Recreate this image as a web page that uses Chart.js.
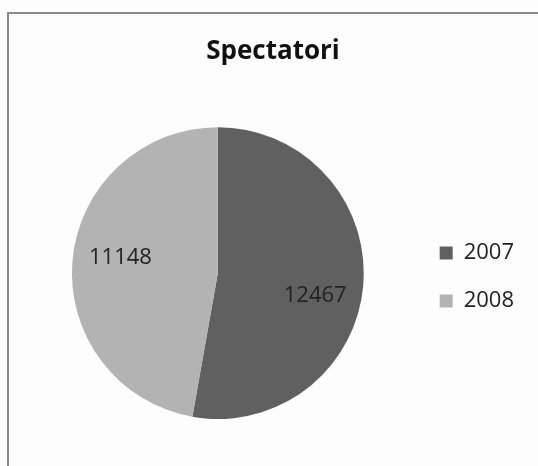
<!DOCTYPE html>
<html>
<head>
<meta charset="utf-8">
<script src="https://cdn.jsdelivr.net/npm/chart.js@4.4.1/dist/chart.umd.min.js"></script>
<style>
    html, body { margin: 0; padding: 0; background: #fdfdfd; overflow: hidden; }
    #wrap { position: relative; width: 538px; height: 466px; overflow: hidden; }
    #frame {
        position: absolute; left: 7px; top: 12px; width: 700px; height: 600px;
        border-left: 2px solid #8c8c8c; border-top: 2px solid #8c8c8c;
    }
    #spectatori-chart { position: absolute; left: 0; top: 0; }
</style>
</head>
<body>
<div id="wrap">
    <div id="frame"></div>
    <canvas id="spectatori-chart" width="538" height="466"></canvas>
</div>
<script>
// Spectatori - 2007 vs 2008

const years = ['2007', '2008'];
const spectators = [12467, 11148];
const sliceColors = ['#606060', '#b3b3b3'];

// Etichete de date in interiorul feliilor
const sliceLabels = {
    id: 'sliceLabels',
    afterDatasetsDraw(chart) {
        const { ctx } = chart;
        const meta = chart.getDatasetMeta(0);
        ctx.save();
        ctx.font = '22px "Open Sans"';
        ctx.fillStyle = '#222';
        ctx.textAlign = 'center';
        ctx.textBaseline = 'middle';
        meta.data.forEach((arc, i) => {
            const p = arc.getProps(['x', 'y', 'startAngle', 'endAngle', 'outerRadius']);
            const mid = (p.startAngle + p.endAngle) / 2 + 6 * Math.PI / 180;
            const r = p.outerRadius * 0.68;
            ctx.fillText(String(spectators[i]), p.x + Math.cos(mid) * r, p.y + Math.sin(mid) * r + 4);
        });
        ctx.restore();
    }
};

const ctx = document.getElementById('spectatori-chart');

new Chart(ctx, {
    type: 'pie',
    data: {
        labels: years,
        datasets: [{
            data: spectators,
            backgroundColor: sliceColors,
            borderWidth: 0
        }]
    },
    options: {
        responsive: false,
        animation: false,
        layout: {
            padding: { top: 0, bottom: 47, left: 22, right: 14 }
        },
        plugins: {
            title: {
                display: true,
                text: 'Spectatori',
                color: '#111',
                font: { family: '"Open Sans"', size: 26, weight: 'bold' },
                padding: { top: 36, bottom: 60 }
            },
            legend: {
                display: true,
                position: 'right',
                fullSize: false,
                // titlu gol: doar coboara putin elementele legendei
                title: { display: true, text: '', font: { size: 5 }, padding: { top: 1, bottom: 1 } },
                labels: {
                    color: '#222',
                    font: { family: '"Open Sans"', size: 22 },
                    boxWidth: 13,
                    boxHeight: 13,
                    padding: 26
                }
            },
            tooltip: { enabled: false }
        }
    },
    plugins: [sliceLabels]
});
</script>
</body>
</html>
